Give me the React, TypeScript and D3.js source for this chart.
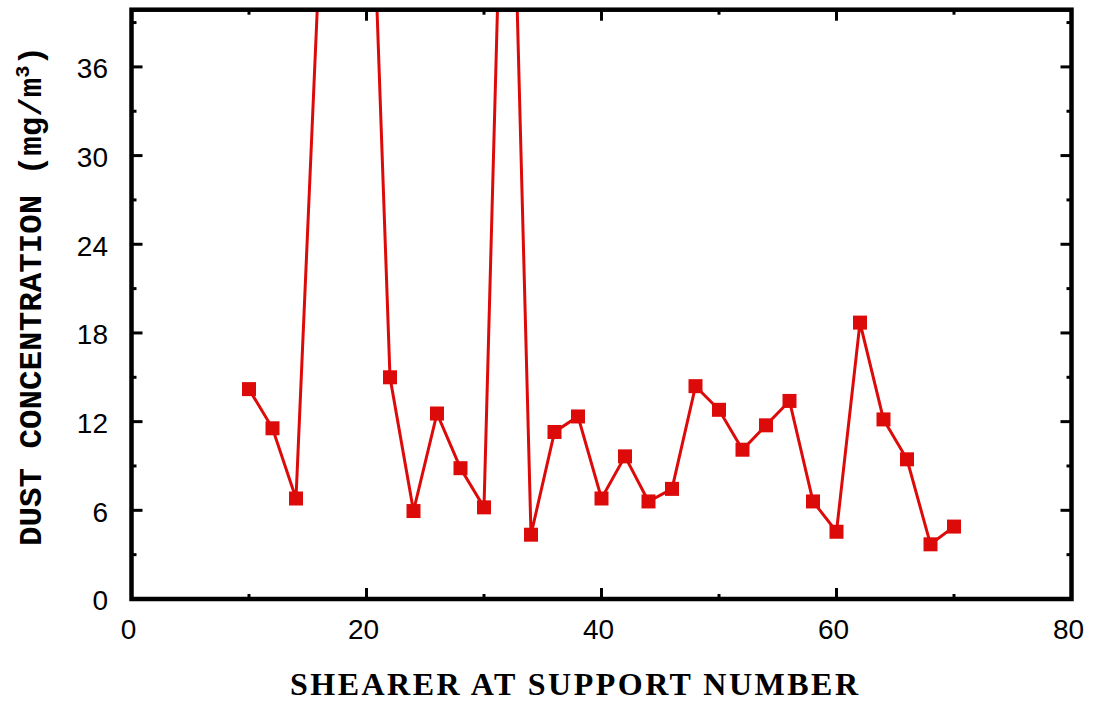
import React from "react";
import * as d3 from "d3";

const supportNumbers = [10, 12, 14, 16, 18, 20, 22, 24, 26, 28, 30, 32, 34, 36, 38, 40, 42, 44, 46, 48, 50, 52, 54, 56, 58, 60, 62, 64, 66, 68, 70];
const dustValues = [14.2, 11.55, 6.8, 43.4, 75, 60, 15.0, 5.95, 12.55, 8.85, 6.2, 65, 4.35, 11.3, 12.35, 6.8, 9.65, 6.6, 7.45, 14.4, 12.8, 10.1, 11.75, 13.4, 6.6, 4.55, 18.7, 12.15, 9.45, 3.7, 4.9];
const xTicks = [0, 20, 40, 60, 80];
const xMinorTicks = [10, 30, 50, 70];
const yTicks = [0, 6, 12, 18, 24, 30, 36];
const yMinorTicks = [3, 9, 15, 21, 27, 33, 39];

const W = 1105;
const H = 704;
const L = 131.5, R = 1071.5, T = 9.7, B = 599;
const RED = "#dd0a0a";

export default function App() {
  const x = d3.scaleLinear().domain([0, 80]).range([L, R]);
  const y = d3.scaleLinear().domain([0, 39.87]).range([B, T]);
  const pts = supportNumbers.map((s, i) => ({ s, v: dustValues[i] }));
  const line = d3.line<{ s: number; v: number }>().x(d => x(d.s)).y(d => y(d.v));
  const ms = 14;
  return (
    <svg width={W} height={H} style={{ position: "absolute", left: 0, top: 0, background: "#fff" }}>
      <defs>
        <clipPath id="plotclip">
          <rect x={L} y={T} width={R - L} height={B - T} />
        </clipPath>
      </defs>
      <g clipPath="url(#plotclip)">
        <path d={line(pts) || ""} fill="none" stroke={RED} strokeWidth={3} strokeLinejoin="miter" />
        {pts.map((p, i) => (
          <rect key={i} x={x(p.s) - ms / 2} y={y(p.v) - ms / 2} width={ms} height={ms} fill={RED} />
        ))}
      </g>
      {/* frame */}
      <rect x={L} y={T} width={R - L} height={B - T} fill="none" stroke="#000" strokeWidth={4.5} />
      {/* y ticks */}
      {yTicks.map(t => (
        <g key={"y" + t}>
          <line x1={L} x2={L + 11} y1={y(t)} y2={y(t)} stroke="#000" strokeWidth={3} />
          <line x1={R} x2={R - 11} y1={y(t)} y2={y(t)} stroke="#000" strokeWidth={3} />
          <text x={108} y={y(t) + 4} textAnchor="end" dominantBaseline="middle" fontFamily="'Liberation Sans', Arial, sans-serif" fontSize={28} fill="#000">{t}</text>
        </g>
      ))}
      {yMinorTicks.map(t => (
        <g key={"ym" + t}>
          <line x1={L} x2={L + 5} y1={y(t)} y2={y(t)} stroke="#000" strokeWidth={3} />
          <line x1={R} x2={R - 5} y1={y(t)} y2={y(t)} stroke="#000" strokeWidth={3} />
        </g>
      ))}
      {/* x ticks */}
      {xTicks.map(t => (
        <g key={"x" + t}>
          <line x1={x(t)} x2={x(t)} y1={B} y2={B - 11} stroke="#000" strokeWidth={3} />
          <line x1={x(t)} x2={x(t)} y1={T} y2={T + 11} stroke="#000" strokeWidth={3} />
          <text x={x(t) - 3} y={632} textAnchor="middle" dominantBaseline="middle" fontFamily="'Liberation Sans', Arial, sans-serif" fontSize={28} fill="#000">{t}</text>
        </g>
      ))}
      {xMinorTicks.map(t => (
        <g key={"xm" + t}>
          <line x1={x(t)} x2={x(t)} y1={B} y2={B - 5} stroke="#000" strokeWidth={3} />
          <line x1={x(t)} x2={x(t)} y1={T} y2={T + 5} stroke="#000" strokeWidth={3} />
        </g>
      ))}
      {/* axis titles */}
      <text x={574} y={695} textAnchor="middle" fontFamily="'Liberation Serif', 'Times New Roman', serif" fontWeight="bold" fontSize={32} textLength={568} lengthAdjust="spacing" fill="#000">SHEARER AT SUPPORT NUMBER</text>
      <text transform="translate(41,296) rotate(-90)" textAnchor="middle" fontFamily="'Liberation Mono', 'Courier New', monospace" fontWeight="bold" fontSize={32} fill="#000" textLength={500} lengthAdjust="spacingAndGlyphs">
        DUST CONCENTRATION (mg/m<tspan fontSize={20} dy={-12}>3</tspan><tspan dy={12}>)</tspan>
      </text>
    </svg>
  );
}
